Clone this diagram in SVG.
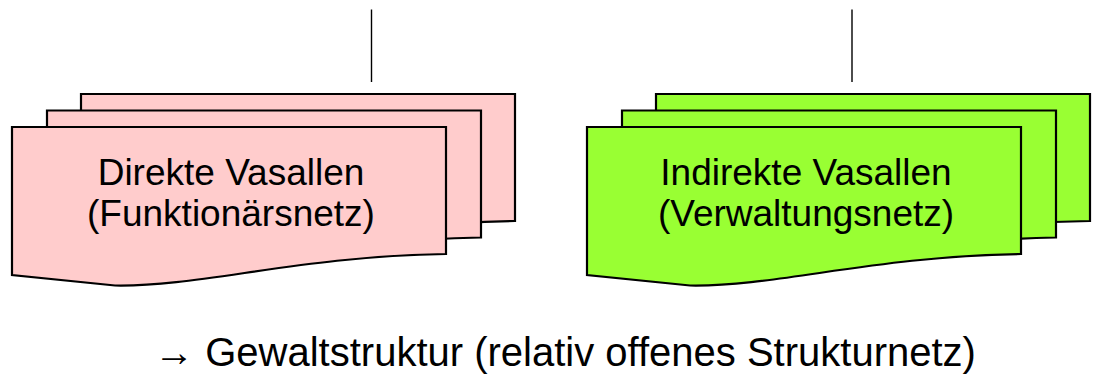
<svg xmlns="http://www.w3.org/2000/svg" xmlns:xlink="http://www.w3.org/1999/xlink" width="1096" height="376" viewBox="0 0 1096 376">
  <style>
    .doc { stroke: #000000; stroke-width: 2.2; stroke-linejoin: miter; }
    .pink { fill: #FFCCCC; }
    .green { fill: #99FF33; }
    .conn { stroke: #000000; stroke-width: 1.4; fill: none; }
    .lbl { font-family: "Liberation Sans", Arial, sans-serif; font-size: 37px; fill: #000000; text-anchor: middle; }
    .foot { font-family: "Liberation Sans", Arial, sans-serif; font-size: 40px; fill: #000000; text-anchor: middle; }
  </style>
  <defs>
    <path id="docShape" d="M0,0 H434 V127 C288,129 188,160 103,158.5 L0,148 Z"/>
  </defs>
  <rect x="0" y="0" width="1096" height="376" fill="#FFFFFF"/>
  <g id="connectors">
    <line class="conn" x1="371.5" y1="9.5" x2="371.5" y2="82"/>
    <line class="conn" x1="852" y1="9.5" x2="852" y2="82"/>
  </g>
  <g id="direkte-vasallen">
    <use xlink:href="#docShape" href="#docShape" class="doc pink" transform="translate(81,94)"/>
    <use xlink:href="#docShape" href="#docShape" class="doc pink" transform="translate(47,110.5)"/>
    <use xlink:href="#docShape" href="#docShape" class="doc pink" transform="translate(12,127)"/>
    <text class="lbl" x="231" y="185">Direkte Vasallen</text>
    <text class="lbl" x="231" y="226">(Funktionärsnetz)</text>
  </g>
  <g id="indirekte-vasallen">
    <use xlink:href="#docShape" href="#docShape" class="doc green" transform="translate(656,94)"/>
    <use xlink:href="#docShape" href="#docShape" class="doc green" transform="translate(622,110.5)"/>
    <use xlink:href="#docShape" href="#docShape" class="doc green" transform="translate(587,127)"/>
    <text class="lbl" x="806" y="185">Indirekte Vasallen</text>
    <text class="lbl" x="806" y="226">(Verwaltungsnetz)</text>
  </g>
  <text class="foot" x="565" y="366">→ Gewaltstruktur (relativ offenes Strukturnetz)</text>
</svg>
